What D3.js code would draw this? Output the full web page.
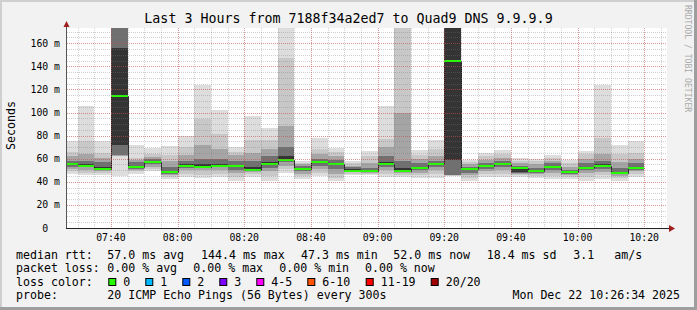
<!DOCTYPE html>
<html>
<head>
<meta charset="utf-8">
<script src="https://cdn.jsdelivr.net/npm/d3@7"></script>
<style>
  body { margin: 0; background: #f2f2f2; }
  svg { display: block; }
  text { font-family: "DejaVu Sans Mono", monospace; fill: #000; white-space: pre; }
</style>
</head>
<body>
<svg id="chart" width="697" height="310"></svg>
<script>
// 5 minute steps, first one starts 07:25 (partly cut off on the left)
const firstSlot = new Date(2025, 11, 22, 7, 25, 0);
const slotCount = 35;

// median rtt per step (ms)
const medians = [55.4, 54.0, 51.4, 114.0, 52.8, 56.8, 48.2, 54.0, 53.1, 54.0,
    53.4, 50.5, 55.1, 58.6, 51.4, 56.8, 55.1, 49.6, 49.0, 55.4,
    49.0, 51.6, 55.1, 144.4, 50.8, 53.4, 55.4, 51.6, 49.0, 52.5,
    48.2, 51.6, 53.4, 47.3, 51.6];

// packet loss per step (all 20 pings answered)
const loss = new Array(35).fill(0);

// smoke: sorted ping rtt bands per step (ms), outer -> inner -> outer
const smoke = [
    [47, 49, 51, 53, 54.5, 56.5, 58, 62, 66, 75],
    [45.5, 48, 50, 52.5, 53.5, 55, 58, 64, 75, 105.4],
    [46, 48, 49.5, 50.5, 51, 53, 57, 61, 65, 75.5],
    [45, 62, 62.5, 63, 72, 156, 180, 180, 180, 180],
    [47, 49, 50.5, 51.5, 52.3, 54, 57, 59, 61, 72],
    [49, 51, 53, 55, 56.2, 57.5, 59.5, 61.5, 64, 69.3],
    [42.5, 44, 45.5, 47, 47.8, 49.5, 53, 58, 63, 70.7],
    [44.5, 47, 50, 52, 53.5, 55, 58, 63, 70, 80],
    [43, 46, 50, 52, 52.7, 55, 60, 72, 94, 123.6],
    [44.5, 47, 50, 52.5, 53.6, 55.5, 60, 68, 81, 102.5],
    [41, 44, 48, 50.5, 52.8, 54.5, 58, 63, 66, 70],
    [44.5, 47, 48.5, 49.5, 50.2, 53, 58, 65, 76, 96.7],
    [41, 45, 49, 52, 54.5, 57, 62, 68, 76, 86.6],
    [48, 51, 54, 57, 58.2, 62, 70, 88, 147, 176],
    [42.5, 45, 47, 49, 51, 52, 54, 55, 56.5, 57.7],
    [45, 48, 51, 54, 56.3, 58, 60, 64, 68, 78],
    [40.5, 43, 47, 51, 54.5, 56, 59, 62, 66, 69.3],
    [45.5, 47, 48.5, 49, 49.3, 51, 52.5, 54, 56, 57.7],
    [46, 47, 47.8, 48.3, 48.8, 50, 52, 56, 62, 66.4],
    [44, 47, 50, 53, 55, 57, 62, 70, 77, 106],
    [44.5, 46, 47.5, 48.3, 48.8, 52, 58, 100, 176, 176],
    [43, 45.5, 48, 50, 51.2, 53, 56, 60, 63, 67.8],
    [43, 46.5, 50, 53, 54.7, 56, 58, 62, 68, 76.5],
    [44.7, 45, 45.5, 46, 59, 176, 180, 180, 180, 180],
    [40.5, 43, 46, 48, 50.3, 51.5, 53, 55, 57, 59.2],
    [44.5, 47, 49.5, 51.5, 53, 54.5, 56, 59, 62, 65],
    [44.5, 47, 50, 53, 55, 56.5, 58, 61, 64, 67.8],
    [44.5, 45.5, 46.5, 47.5, 48.5, 52.5, 54, 56, 58, 60.6],
    [43, 45, 46.5, 47.8, 48.6, 50, 52, 55, 58, 60],
    [42.5, 45, 48, 50.5, 52, 54, 56, 58, 61, 63.5],
    [42.5, 44.5, 46, 47, 47.8, 49, 50.5, 53, 56, 59.2],
    [41, 44, 47.5, 50, 51.2, 53, 56, 60, 64, 67],
    [42.5, 45.5, 48.5, 51, 53, 55, 58, 64, 78, 123.6],
    [41, 43, 45, 46.5, 46.9, 48.5, 52, 57, 64, 71.6],
    [44.5, 47, 49, 50.5, 51.2, 53, 56, 60, 65, 75.6]
];

const yTicks = [0, 20, 40, 60, 80, 100, 120, 140, 160];
const yTickLabels = ["0  ", "20 m", "40 m", "60 m", "80 m", "100 m", "120 m", "140 m", "160 m"];

const lossLabels = ["0", "1", "2", "3", "4-5", "6-10", "11-19", "20/20"];
const lossColors = ["#26ff00", "#00b8ff", "#0059ff", "#7e00ff", "#ff00ff", "#ff5500", "#ff0000", "#a00000"];

const titleText = "Last 3 Hours from 7188f34a2ed7 to Quad9 DNS 9.9.9.9";
const rttStats = ["57.0 ms avg", "144.4 ms max", "47.3 ms min", "52.0 ms now", "18.4 ms sd", "3.1", "am/s"];
const lossStats = ["0.00 % avg", "0.00 % max", "0.00 % min", "0.00 % now"];
const probeText = "20 ICMP Echo Pings (56 Bytes) every 300s";
const stampText = "Mon Dec 22 10:26:34 2025";

const W = 697, H = 310;
const margin = { left: 67, right: 30, top: 28, bottom: 82 };
const pw = W - margin.left - margin.right, ph = H - margin.top - margin.bottom;

const svg = d3.select("#chart");

// background + 3d frame like rrdtool
svg.append("rect").attr("width", W).attr("height", H).attr("fill", "#f2f2f2");
svg.append("rect").attr("x", 0).attr("y", 0).attr("width", W).attr("height", 2).attr("fill", "#cfcfcf");
svg.append("rect").attr("x", 0).attr("y", 0).attr("width", 2).attr("height", H).attr("fill", "#cfcfcf");
svg.append("rect").attr("x", 0).attr("y", H - 3).attr("width", W).attr("height", 3).attr("fill", "#9e9e9e");
svg.append("rect").attr("x", W - 3).attr("y", 0).attr("width", 3).attr("height", H).attr("fill", "#9e9e9e");

const t0 = new Date(2025, 11, 22, 7, 26, 50);
const t1 = new Date(2025, 11, 22, 10, 26, 50);
const x = d3.scaleTime().domain([t0, t1]).range([margin.left, margin.left + pw]);
const y = d3.scaleLinear().domain([0, 173.2]).range([margin.top + ph, margin.top]);

const slots = d3.range(slotCount).map(i => ({
    start: d3.timeMinute.offset(firstSlot, 5 * i),
    end: d3.timeMinute.offset(firstSlot, 5 * i + 5),
    median: medians[i],
    loss: loss[i],
    smoke: smoke[i]
}));

svg.append("defs").append("clipPath").attr("id", "plot")
    .append("rect").attr("x", margin.left).attr("y", margin.top).attr("width", pw).attr("height", ph);

svg.append("rect").attr("x", margin.left).attr("y", margin.top)
    .attr("width", pw).attr("height", ph).attr("fill", "#ffffff");

const g = svg.append("g").attr("clip-path", "url(#plot)");

// smoke bands, darker toward the middle
const shades = [221, 200, 165, 112, 52].map(v => d3.rgb(v, v, v).formatHex());
slots.forEach(s => {
    for (let b = 0; b < 5; b++) {
        const lo = s.smoke[b], hi = s.smoke[9 - b];
        g.append("rect")
            .attr("x", Math.round(x(s.start)))
            .attr("width", Math.round(x(s.end)) - Math.round(x(s.start)))
            .attr("y", Math.round(y(hi)))
            .attr("height", Math.round(y(lo)) - Math.round(y(hi)))
            .attr("fill", shades[b])
            .attr("shape-rendering", "crispEdges");
    }
});

// median step line
const stepPts = slots.map(s => [s.start, s.median]).concat([[slots[slotCount - 1].end, medians[slotCount - 1]]]);
g.append("path")
    .datum(stepPts)
    .attr("fill", "none")
    .attr("stroke", "#202020")
    .attr("stroke-width", 1)
    .attr("d", d3.line().curve(d3.curveStepAfter)
        .x(d => Math.round(x(d[0])) + 0.5)
        .y(d => Math.round(y(d[1])) + 0.5));

// loss coloured median segments
g.selectAll(".med").data(slots).join("rect")
    .attr("x", d => Math.round(x(d.start)))
    .attr("width", d => Math.round(x(d.end)) - Math.round(x(d.start)))
    .attr("y", d => Math.round(y(d.median)) - 1)
    .attr("height", 2)
    .attr("fill", d => lossColors[d.loss])
    .attr("shape-rendering", "crispEdges");

// grid on top, dotted
const grid = svg.append("g").attr("shape-rendering", "crispEdges");
const minorX = d3.timeMinute.every(5).range(t0, t1);
const majorX = d3.timeMinute.every(20).range(t0, t1);
const minorY = d3.range(5, 175, 5);

grid.selectAll(".vx").data(minorX).join("line")
    .attr("x1", d => Math.round(x(d)) + 0.5).attr("x2", d => Math.round(x(d)) + 0.5)
    .attr("y1", margin.top).attr("y2", margin.top + ph)
    .attr("stroke", "rgba(120,120,120,0.35)").attr("stroke-dasharray", "1,1");
grid.selectAll(".hy").data(minorY).join("line")
    .attr("x1", margin.left).attr("x2", margin.left + pw)
    .attr("y1", d => Math.round(y(d)) + 0.5).attr("y2", d => Math.round(y(d)) + 0.5)
    .attr("stroke", "rgba(120,120,120,0.35)").attr("stroke-dasharray", "1,1");
grid.selectAll(".vX").data(majorX).join("line")
    .attr("x1", d => Math.round(x(d)) + 0.5).attr("x2", d => Math.round(x(d)) + 0.5)
    .attr("y1", margin.top).attr("y2", margin.top + ph)
    .attr("stroke", "rgba(235,60,60,0.4)").attr("stroke-dasharray", "1,1");
grid.selectAll(".hY").data(yTicks.slice(1)).join("line")
    .attr("x1", margin.left).attr("x2", margin.left + pw)
    .attr("y1", d => Math.round(y(d)) + 0.5).attr("y2", d => Math.round(y(d)) + 0.5)
    .attr("stroke", "rgba(235,60,60,0.4)").attr("stroke-dasharray", "1,1");

// axes
const axisY = margin.top + ph + 0.5;
svg.append("line").attr("x1", margin.left - 0.5).attr("x2", margin.left - 0.5)
    .attr("y1", axisY).attr("y2", 23).attr("stroke", "#555");
svg.append("line").attr("x1", margin.left - 1).attr("x2", 671)
    .attr("y1", axisY).attr("y2", axisY).attr("stroke", "#222");
svg.append("path").attr("d", "M63.5,27L69.5,27L66.5,21Z").attr("fill", "#9f1f1f");
svg.append("path").attr("d", "M669,225L669,232L675,228.5Z").attr("fill", "#9f1f1f");

// tick labels
svg.selectAll(".xl").data(majorX).join("text")
    .attr("x", d => x(d)).attr("y", 241)
    .attr("text-anchor", "middle").attr("font-size", "9.8px")
    .text(d => d3.timeFormat("%H:%M")(d));
svg.selectAll(".yl").data(yTicks).join("text")
    .attr("x", 60).attr("y", d => y(d) + 3.5)
    .attr("text-anchor", "end").attr("font-size", "9.8px")
    .text((d, i) => yTickLabels[i]);

// title, axis title, watermark
svg.append("text").attr("x", 348.5).attr("y", 23.3).attr("text-anchor", "middle")
    .attr("font-size", "13.3px").text(titleText);
svg.append("text").attr("transform", "translate(15,125.5) rotate(-90)")
    .attr("text-anchor", "middle").attr("font-size", "11.6px").text("Seconds");
svg.append("text").attr("transform", "translate(685,5) rotate(90)")
    .attr("font-size", "8.1px").style("fill", "#aaaaaa").text("RRDTOOL / TOBI OETIKER");

// legend
const lf = "11.6px";
const rows = [258.5, 272, 285.5, 299];
function lt(xp, yp, s) {
    svg.append("text").attr("x", xp).attr("y", yp).attr("font-size", lf).text(s);
}
lt(16, rows[0], "median rtt:");
[107.3, 201, 301, 393.3, 486.7, 573.3, 614.3].forEach((xp, i) => lt(xp, rows[0], rttStats[i]));
lt(16, rows[1], "packet loss:");
[107.3, 193.3, 279.3, 365].forEach((xp, i) => lt(xp, rows[1], lossStats[i]));
lt(16, rows[2], "loss color:");
const boxX = [108.3, 145.3, 182.3, 219.3, 256.3, 307.3, 365.7, 430.7];
lossLabels.forEach((l, i) => {
    svg.append("rect").attr("x", boxX[i] + 0.5).attr("y", 278.5).attr("width", 7).attr("height", 7)
        .attr("fill", lossColors[i]).attr("stroke", "#000").attr("stroke-width", 1);
    lt(boxX[i] + 15, rows[2], l);
});
lt(16, rows[3], "probe:");
lt(107.3, rows[3], probeText);
svg.append("text").attr("x", 680).attr("y", rows[3]).attr("text-anchor", "end")
    .attr("font-size", lf).text(stampText);
</script>
</body>
</html>
